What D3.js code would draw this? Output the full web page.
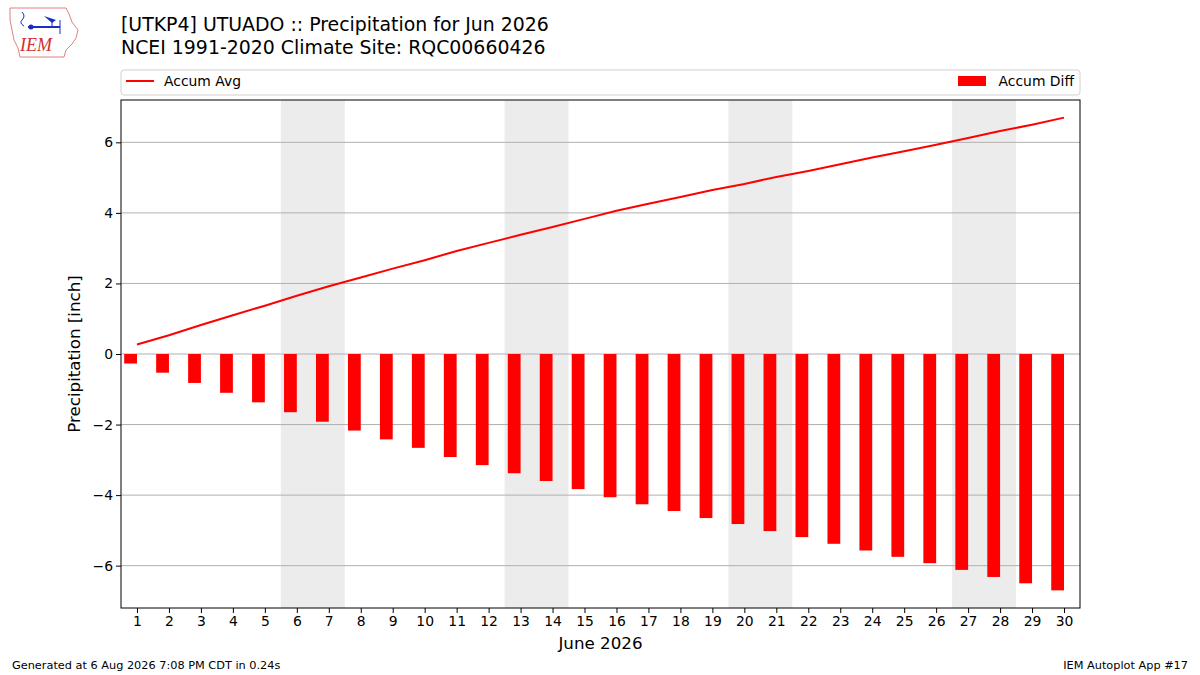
<!DOCTYPE html>
<html>
<head>
<meta charset="utf-8">
<script src="https://cdn.jsdelivr.net/npm/d3@7"></script>
<style>
  body { margin: 0; background: #fff; }
  text { font-family: "DejaVu Sans", sans-serif; }
</style>
</head>
<body>
<div id="container-div"></div>
<script>
// June 2026 days
var days = d3.range(1, 31);
// accumulated average precip (inch)
var accumAvg = [0.27, 0.53, 0.82, 1.10, 1.37, 1.65, 1.92, 2.17, 2.42, 2.66,
                2.92, 3.15, 3.38, 3.60, 3.83, 4.06, 4.26, 4.45, 4.65, 4.82,
                5.02, 5.19, 5.38, 5.57, 5.75, 5.93, 6.12, 6.32, 6.50, 6.70];
// accumulated difference (observed minus avg)
var accumDiff = [-0.27, -0.53, -0.82, -1.10, -1.37, -1.65, -1.92, -2.17, -2.42, -2.66,
                 -2.92, -3.15, -3.38, -3.60, -3.83, -4.06, -4.26, -4.45, -4.65, -4.82,
                 -5.02, -5.19, -5.38, -5.57, -5.75, -5.93, -6.12, -6.32, -6.50, -6.70];
// weekend days shaded
var weekends = [6, 13, 20, 27];
var yTicks = [-6, -4, -2, 0, 2, 4, 6];

var margin = {left: 121, right: 1080, top: 100, bottom: 608};

let viz = d3.select("#container-div").append("svg")
    .attr("width", 1200)
    .attr("height", 675)
    .attr("id", "viz");

var x = d3.scaleLinear().domain([0.5, 30.5]).range([margin.left, margin.right]);
var y = d3.scaleLinear().domain([-7.2, 7.2]).range([margin.bottom, margin.top]);

// weekend shading
viz.selectAll(".wk").data(weekends).enter()
    .append("rect")
    .attr("class", "wk")
    .attr("x", d => x(d - 0.5))
    .attr("width", d => x(d + 1.5) - x(d - 0.5))
    .attr("y", margin.top)
    .attr("height", margin.bottom - margin.top)
    .attr("fill", "#ececec");

// grid
viz.selectAll(".grid").data(yTicks).enter()
    .append("line")
    .attr("class", "grid")
    .attr("x1", margin.left).attr("x2", margin.right)
    .attr("y1", d => y(d)).attr("y2", d => y(d))
    .attr("stroke", "#b0b0b0")
    .attr("stroke-width", 1);

// bars, right edge on the day
viz.selectAll(".bar").data(accumDiff).enter()
    .append("rect")
    .attr("class", "bar")
    .attr("x", (d, i) => x(days[i] - 0.4))
    .attr("width", (d, i) => x(days[i]) - x(days[i] - 0.4))
    .attr("y", d => y(Math.max(0, d)))
    .attr("height", d => Math.abs(y(d) - y(0)))
    .attr("fill", "red");

// accum avg line
var line = d3.line().x((d, i) => x(days[i])).y(d => y(d));
viz.append("path")
    .datum(accumAvg)
    .attr("d", line)
    .attr("fill", "none")
    .attr("stroke", "red")
    .attr("stroke-width", 2);

// axes
var xAxis = d3.axisBottom(x).tickValues(days).tickFormat(d3.format("d")).tickSizeOuter(0).tickSize(5).tickPadding(3);
var yAxis = d3.axisLeft(y).tickValues(yTicks).tickFormat(d => d < 0 ? "\u2212" + Math.abs(d) : d).tickSizeOuter(0).tickSize(5).tickPadding(3);

var gx = viz.append("g").attr("transform", "translate(0," + margin.bottom + ")").call(xAxis);
var gy = viz.append("g").attr("transform", "translate(" + margin.left + ",0)").call(yAxis);
[gx, gy].forEach(function(g) {
    g.select(".domain").remove();
    g.selectAll("text").attr("font-size", "13.9px").attr("fill", "#000")
        .style("font-family", "DejaVu Sans");
    g.selectAll("line").attr("stroke", "#000");
});

// frame
viz.append("rect")
    .attr("x", margin.left).attr("y", margin.top)
    .attr("width", margin.right - margin.left)
    .attr("height", margin.bottom - margin.top)
    .attr("fill", "none").attr("stroke", "#000").attr("stroke-width", 1);

// axis labels
viz.append("text")
    .attr("x", (margin.left + margin.right) / 2).attr("y", 649)
    .attr("text-anchor", "middle").attr("font-size", "16.7px")
    .text("June 2026");
viz.append("text")
    .attr("transform", "translate(80," + y(0) + ") rotate(-90)")
    .attr("text-anchor", "middle").attr("font-size", "16.7px")
    .text("Precipitation [inch]");

// titles
viz.append("text").attr("x", 121).attr("y", 31).attr("font-size", "18.9px")
    .text("[UTKP4] UTUADO :: Precipitation for Jun 2026");
viz.append("text").attr("x", 121).attr("y", 54).attr("font-size", "18.9px")
    .text("NCEI 1991-2020 Climate Site: RQC00660426");

// legend
viz.append("rect")
    .attr("x", 121).attr("y", 70).attr("width", 959).attr("height", 25)
    .attr("rx", 3).attr("fill", "#fff").attr("stroke", "#d0d0d0");
viz.append("line").attr("x1", 126).attr("x2", 154).attr("y1", 81).attr("y2", 81)
    .attr("stroke", "red").attr("stroke-width", 2);
viz.append("text").attr("x", 164).attr("y", 86).attr("font-size", "13.9px").text("Accum Avg");
viz.append("rect").attr("x", 958).attr("y", 76).attr("width", 28).attr("height", 10).attr("fill", "red");
viz.append("text").attr("x", 1074).attr("y", 86).attr("font-size", "13.9px")
    .attr("text-anchor", "end").text("Accum Diff");

// footer
viz.append("text").attr("x", 12).attr("y", 669).attr("font-size", "11.3px")
    .text("Generated at 6 Aug 2026 7:08 PM CDT in 0.24s");
viz.append("text").attr("x", 1188).attr("y", 669).attr("font-size", "11.3px")
    .attr("text-anchor", "end").text("IEM Autoplot App #17");

// logo (rough)
var logo = viz.append("g");
logo.append("path")
    .attr("d", "M10,8 L66,8 L69,14 L72,22 L78,30 L76,38 L72,44 L66,50 L64,57 L20,57 L18,48 L14,40 L12,30 L10,20 Z")
    .attr("fill", "none").attr("stroke", "#e08080").attr("stroke-width", 1);
logo.append("line").attr("x1", 28).attr("x2", 60).attr("y1", 27).attr("y2", 27)
    .attr("stroke", "#1a2fbf").attr("stroke-width", 2);
logo.append("circle").attr("cx", 31).attr("cy", 27).attr("r", 2.5).attr("fill", "#1a2fbf");
logo.append("path").attr("d", "M44,16 L56,20 L52,23 Z").attr("fill", "#1a2fbf");
logo.append("line").attr("x1", 52).attr("x2", 52).attr("y1", 22).attr("y2", 27)
    .attr("stroke", "#1a2fbf").attr("stroke-width", 1);
logo.append("line").attr("x1", 60).attr("x2", 60).attr("y1", 20).attr("y2", 34)
    .attr("stroke", "#1a2fbf").attr("stroke-width", 1);
logo.append("path").attr("d", "M22,12 q4,4 0,8 q-3,3 2,6").attr("fill", "none")
    .attr("stroke", "#1a2fbf").attr("stroke-width", 1);
logo.append("text").attr("x", 20).attr("y", 51).attr("font-size", "18px")
    .attr("font-style", "italic").attr("fill", "#d03030")
    .style("font-family", "Liberation Serif").text("IEM");
</script>
</body>
</html>
